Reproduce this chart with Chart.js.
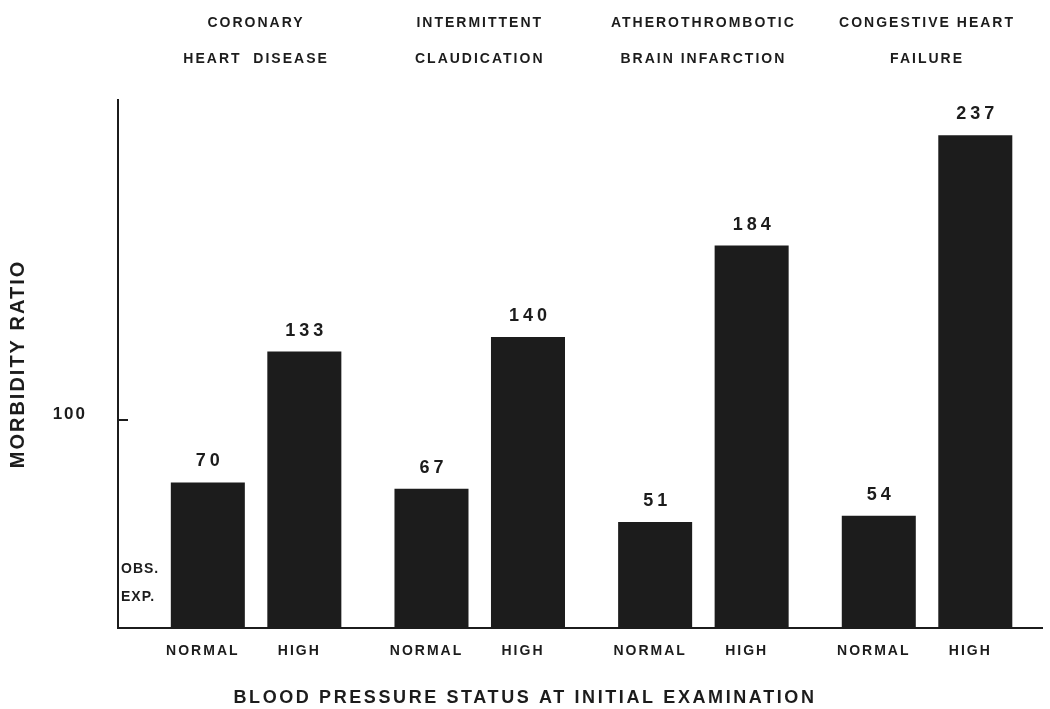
<!DOCTYPE html>
<html>
<head>
<meta charset="utf-8">
<script src="https://cdn.jsdelivr.net/npm/chart.js@4/dist/chart.umd.min.js"></script>
<style>
  html, body { margin: 0; padding: 0; background: #fff; }
  #wrap { width: 1050px; height: 709px; }
</style>
</head>
<body>
<div id="wrap"><canvas id="myChart"></canvas></div>
<script>
// data
var groupTitles = [
  ["CORONARY", "HEART  DISEASE"],
  ["INTERMITTENT", "CLAUDICATION"],
  ["ATHEROTHROMBOTIC", "BRAIN INFARCTION"],
  ["CONGESTIVE HEART", "FAILURE"]
];
var statusLabels = ["NORMAL", "HIGH"];
var normalRatios = [70, 67, 51, 54];
var highRatios = [133, 140, 184, 237];
var yTicks = [100];
var xTitle = "BLOOD PRESSURE STATUS AT INITIAL EXAMINATION";
var yTitle = "MORBIDITY RATIO";
var unitLines = ["OBS.", "EXP."];

var ink = "#1c1c1c";
var family = '"Liberation Sans", Arial, sans-serif';

function toPoints(values) {
  return values.map((v, i) => ({ x: i + 1, y: v }));
}
function groupTicks(scale) {
  scale.ticks = groupTitles.map((t, i) => ({ value: i + 1 }));
}

// spacing for the scale texts drawn by chart.js
var spacingPlugin = {
  id: "spacing",
  beforeDraw(chart) { chart.ctx.letterSpacing = "2px"; },
  afterDraw(chart) { chart.ctx.letterSpacing = "0px"; }
};

// value labels, status labels under bars, unit text, x title
var labelPlugin = {
  id: "labels",
  afterDatasetsDraw(chart) {
    var ctx = chart.ctx;
    var area = chart.chartArea;
    ctx.save();
    ctx.fillStyle = ink;
    ctx.textAlign = "center";
    ctx.textBaseline = "alphabetic";
    chart.data.datasets.forEach((ds, d) => {
      var meta = chart.getDatasetMeta(d);
      meta.data.forEach((bar, i) => {
        ctx.font = "bold 18px " + family;
        ctx.letterSpacing = "4px";
        ctx.fillText(String(ds.data[i].y), bar.x + 2, bar.y - 16);
        ctx.font = "bold 14px " + family;
        ctx.letterSpacing = "2px";
        ctx.fillText(ds.label, bar.x - 5, area.bottom + 27);
      });
    });
    ctx.font = "bold 18px " + family;
    ctx.letterSpacing = "2.6px";
    ctx.fillText(xTitle, chart.width / 2, area.bottom + 75);
    ctx.textAlign = "left";
    ctx.font = "bold 14px " + family;
    ctx.letterSpacing = "1px";
    ctx.fillText(unitLines[0], area.left + 3, area.bottom - 55);
    ctx.fillText(unitLines[1], area.left + 3, area.bottom - 27);
    ctx.restore();
  }
};

var ctx = document.getElementById("myChart");
var chart = new Chart(ctx, {
  type: "bar",
  data: {
    datasets: [
      { label: statusLabels[0], data: toPoints(normalRatios), backgroundColor: ink },
      { label: statusLabels[1], data: toPoints(highRatios), backgroundColor: ink }
    ]
  },
  options: {
    responsive: true,
    maintainAspectRatio: false,
    animation: false,
    categoryPercentage: 0.863,
    barPercentage: 0.767,
    layout: { padding: { left: 0, right: 8, top: 0, bottom: 0 } },
    plugins: {
      legend: { display: false },
      tooltip: { enabled: false }
    },
    scales: {
      x: {
        type: "linear",
        position: "bottom",
        offset: false,
        min: 0.3826,
        max: 4.514,
        afterBuildTicks: groupTicks,
        afterFit: (s) => { s.height = 81; },
        grid: { display: false, drawTicks: false, offset: false },
        border: { display: true, color: ink, width: 2 },
        ticks: { display: false }
      },
      x2: {
        type: "linear",
        position: "top",
        offset: false,
        min: 0.3826,
        max: 4.514,
        afterBuildTicks: groupTicks,
        afterFit: (s) => { s.height = 100; },
        grid: { display: false, drawTicks: false, offset: false },
        border: { display: false },
        ticks: {
          autoSkip: false,
          maxRotation: 0,
          padding: 23,
          color: ink,
          font: { family: family, size: 14, weight: "bold", lineHeight: "36px" },
          callback: (v) => groupTitles[v - 1]
        }
      },
      y: {
        min: 0,
        max: 254,
        afterBuildTicks: (s) => { s.ticks = yTicks.map((v) => ({ value: v })); },
        afterFit: (s) => { s.width = 118; },
        grid: { display: true, drawOnChartArea: false, drawTicks: true, tickLength: -10, color: ink, lineWidth: 2 },
        border: { display: true, color: ink, width: 2 },
        ticks: {
          padding: 41,
          labelOffset: -6,
          color: ink,
          font: { family: family, size: 17, weight: "bold" }
        },
        title: {
          display: true,
          text: yTitle,
          color: ink,
          padding: { top: 6, bottom: 0 },
          font: { family: family, size: 20, weight: "bold" }
        }
      }
    }
  },
  plugins: [spacingPlugin, labelPlugin]
});
</script>
</body>
</html>
